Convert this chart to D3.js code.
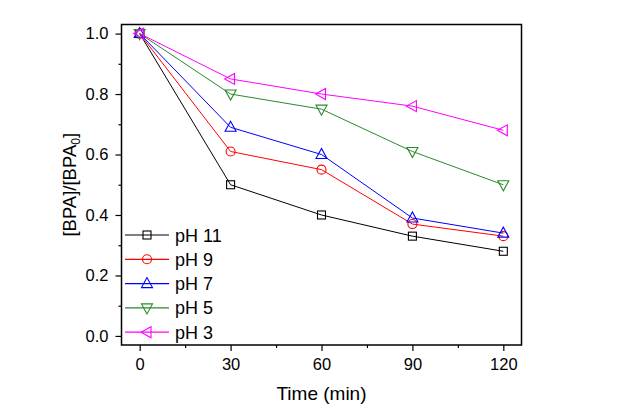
<!DOCTYPE html>
<html><head><meta charset="utf-8">
<script src="https://cdn.jsdelivr.net/npm/d3@7"></script>
<style>body{margin:0;background:#fff;} text{font-family:Arial,"Liberation Sans",sans-serif;}</style>
</head><body>
<svg id="c" width="619" height="413"></svg>
<script>
const times = [0, 30, 60, 90, 120];
const seriesNames = ["pH 11", "pH 9", "pH 7", "pH 5", "pH 3"];
const pH11 = [1.0, 0.50, 0.40, 0.33, 0.28];
const pH9 = [1.0, 0.61, 0.55, 0.37, 0.33];
const pH7 = [1.0, 0.69, 0.60, 0.39, 0.34];
const pH5 = [1.0, 0.80, 0.75, 0.61, 0.50];
const pH3 = [1.0, 0.85, 0.80, 0.76, 0.68];
const xTicks = [0, 30, 60, 90, 120];
const yTicks = [0.0, 0.2, 0.4, 0.6, 0.8, 1.0];

const colors = ["#000000", "#ff0000", "#0000ff", "#2a8a2a", "#ff00ff"];
const symbols = ["square", "circle", "triUp", "triDown", "triLeft"];
const allSeries = [pH11, pH9, pH7, pH5, pH3];

const svg = d3.select("#c");
const L = 121.5, R = 521.5, T = 24.5, B = 345;
const x = d3.scaleLinear().domain([-6, 126]).range([L, R]);
const y = d3.scaleLinear().domain([-0.03, 1.03]).range([B, T]);

// frame
svg.append("rect").attr("x", L).attr("y", T).attr("width", R - L).attr("height", B - T)
  .attr("fill", "none").attr("stroke", "#000").attr("stroke-width", 1.5);

// axes
const xAxis = d3.axisBottom(x).tickValues(xTicks).tickSize(6).tickPadding(7).tickFormat(d3.format("d"));
svg.append("g").attr("transform", `translate(0,${B})`).call(xAxis);
const xMinor = d3.axisBottom(x).tickValues([15, 45, 75, 105]).tickSize(3).tickFormat("");
svg.append("g").attr("transform", `translate(0,${B})`).call(xMinor);
const yAxis = d3.axisLeft(y).tickValues(yTicks).tickSize(6).tickPadding(7).tickFormat(d3.format(".1f"));
svg.append("g").attr("transform", `translate(${L},0)`).call(yAxis);
const yMinor = d3.axisLeft(y).tickValues([0.1, 0.3, 0.5, 0.7, 0.9]).tickSize(3).tickFormat("");
svg.append("g").attr("transform", `translate(${L},0)`).call(yMinor);
svg.selectAll(".domain").remove();
svg.selectAll(".tick line").attr("stroke", "#000").attr("stroke-width", 1.2);
svg.selectAll(".tick text").attr("font-size", 16.5).attr("fill", "#000").attr("font-family", "Arial, 'Liberation Sans', sans-serif");

// titles
svg.append("text").attr("x", (L + R) / 2).attr("y", 400).attr("text-anchor", "middle")
  .attr("font-size", 19).text("Time (min)");
const yl = svg.append("text").attr("transform", `translate(76,${(T + B) / 2}) rotate(-90)`)
  .attr("text-anchor", "middle").attr("font-size", 18.5);
yl.append("tspan").text("[BPA]/[BPA");
yl.append("tspan").attr("font-size", 12).attr("dy", 4).text("0");
yl.append("tspan").attr("dy", -4).text("]");

function marker(g, type, cx, cy, color) {
  let el;
  if (type === "square") el = g.append("rect").attr("x", cx - 4).attr("y", cy - 4).attr("width", 8).attr("height", 8);
  else if (type === "circle") el = g.append("circle").attr("cx", cx).attr("cy", cy).attr("r", 4.5);
  else {
    let pts;
    if (type === "triUp") pts = [[cx, cy - 6], [cx - 5.5, cy + 4], [cx + 5.5, cy + 4]];
    else if (type === "triDown") pts = [[cx, cy + 6], [cx - 5.5, cy - 4], [cx + 5.5, cy - 4]];
    else pts = [[cx - 6, cy], [cx + 4, cy - 5.5], [cx + 4, cy + 5.5]];
    el = g.append("polygon").attr("points", pts.map(p => p.join(",")).join(" "));
  }
  el.attr("fill", "none").attr("stroke", color).attr("stroke-width", 1.1);
}

const line = d3.line().x((d, i) => x(times[i])).y(d => y(d));
allSeries.forEach((vals, si) => {
  const g = svg.append("g");
  g.append("path").datum(vals).attr("d", line).attr("fill", "none")
    .attr("stroke", colors[si]).attr("stroke-width", 1);
  vals.forEach((v, i) => marker(g, symbols[si], x(times[i]), y(v), colors[si]));
});

// legend
const lg = svg.append("g");
seriesNames.forEach((n, i) => {
  const ly = 235 + i * 24.3;
  lg.append("line").attr("x1", 125).attr("x2", 169).attr("y1", ly).attr("y2", ly)
    .attr("stroke", colors[i]).attr("stroke-width", 1.2);
  marker(lg, symbols[i], 147, ly, colors[i]);
  lg.append("text").attr("x", 175).attr("y", ly + 6.5).attr("font-size", 18).text(n);
});
</script>
</body></html>
